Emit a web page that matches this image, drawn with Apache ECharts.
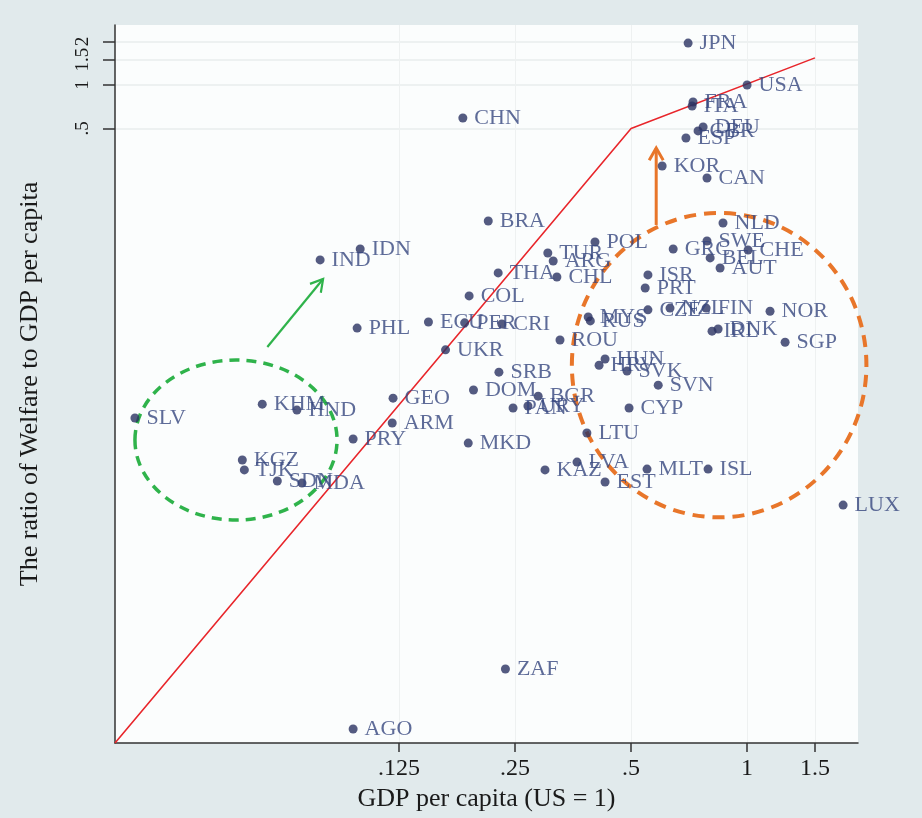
<!DOCTYPE html>
<html><head><meta charset="utf-8">
<script src="https://cdn.jsdelivr.net/npm/echarts@6/dist/echarts.min.js"></script>
<style>html,body{margin:0;padding:0;background:#e1eaec;} #c{width:922px;height:818px;}</style>
</head><body><div id="c"></div>
<script>
// ---- data (log-log scatter) ----
const countries = ['JPN','USA','FRA','ITA','DEU','GBR','ESP','KOR','CAN','CHN',
  'NLD','SWE','GRC','CHE','BEL','AUT','POL','ISR','PRT','MYS',
  'RUS','CZE','NZL','FIN','NOR','IRL','DNK','SGP','HUN','HRV',
  'SVK','SVN','CYP','LTU','LVA','KAZ','EST','MLT','ISL','BGR',
  'PAN','URY','DOM','SRB','MKD','UKR','ROU','ECU','PER','CRI',
  'COL','THA','BRA','TUR','ARG','CHL','IND','IDN','PHL','GEO',
  'KHM','HND','SLV','ARM','PRY','KGZ','TJK','SDN','MDA','AGO',
  'ZAF','LUX'];
const gdpPerCapita = [0.703,1.0,0.724,0.720,0.769,0.746,0.694,0.602,0.787,0.183,
  0.866,0.787,0.643,1.006,0.802,0.851,0.403,0.553,0.544,0.387,
  0.392,0.553,0.631,0.783,1.147,0.811,0.841,1.255,0.428,0.413,
  0.488,0.588,0.494,0.384,0.362,0.299,0.428,0.550,0.792,0.287,
  0.247,0.270,0.195,0.227,0.189,0.165,0.327,0.149,0.185,0.231,
  0.190,0.226,0.213,0.304,0.314,0.321,0.0780,0.0991,0.0973,0.1206,
  0.0552,0.0679,0.0258,0.120,0.0950,0.0490,0.0496,0.0604,0.0700,0.0950,
  0.236,1.775];
const welfareRatio = [1.95,1.0,0.763,0.716,0.512,0.481,0.430,0.275,0.227,0.591,
  0.111,0.0833,0.0733,0.0721,0.0636,0.0542,0.0820,0.0485,0.0394,0.0248,
  0.0233,0.0278,0.0286,0.0286,0.0272,0.0198,0.0205,0.0166,0.0127,0.0115,
  0.0105,0.00838,0.00582,0.00391,0.00246,0.00217,0.00179,0.00220,0.00220,0.00703,
  0.00582,0.00601,0.00775,0.0103,0.00333,0.0147,0.0172,0.0229,0.0226,0.0222,
  0.0347,0.0501,0.1145,0.0688,0.0606,0.0469,0.0616,0.0733,0.0208,0.00681,
  0.00619,0.00563,0.00496,0.00458,0.00355,0.00254,0.00217,0.00182,0.00176,0.000035,
  0.000091,0.00124];
const xTickValues = [0.125, 0.25, 0.5, 1, 1.5];
const xTickLabels = ['.125', '.25', '.5', '1', '1.5'];
const yTickValues = [0.5, 1, 1.5, 2];
const yTickLabels = ['.5', '1', '1.5', '2'];
const xRange = [0.0229, 1.94];
const yRange = [0.000028, 2.6];
// red kinked reference line
const redLineX = [0.0229, 0.5, 1.5];
const redLineY = [0.000028, 0.5, 1.54];
// annotations (data coordinates): ellipse bounding boxes and arrows
const greenEllipse = [0.0258, 0.000977, 0.0863, 0.0125];
const orangeEllipse = [0.351, 0.00102, 2.04, 0.130];
const greenArrow = [0.0569, 0.0154, 0.0794, 0.0455];
const orangeArrow = [0.581, 0.1075, 0.581, 0.366];

const L2 = Math.log2;
const SERIF = '"Liberation Serif", "Times New Roman", serif';
function fmt(ticks, labels) {
  return function (v) {
    for (let i = 0; i < ticks.length; i++) if (Math.abs(L2(ticks[i]) - v) < 1e-6) return labels[i];
    return '';
  };
}
function ellipseItem(color, width, dash) {
  return function (params, api) {
    const a = api.coord([api.value(0), api.value(1)]);
    const b = api.coord([api.value(2), api.value(3)]);
    return {type: 'ellipse',
      shape: {cx: (a[0] + b[0]) / 2, cy: (a[1] + b[1]) / 2, rx: Math.abs(b[0] - a[0]) / 2, ry: Math.abs(b[1] - a[1]) / 2},
      style: {fill: 'none', stroke: color, lineWidth: width, lineDash: dash}};
  };
}
function arrowItem(color, width) {
  return function (params, api) {
    const a = api.coord([api.value(0), api.value(1)]);
    const b = api.coord([api.value(2), api.value(3)]);
    const ang = Math.atan2(b[1] - a[1], b[0] - a[0]);
    const L = 14, w = Math.PI / 6;
    const h1 = [b[0] - L * Math.cos(ang - w), b[1] - L * Math.sin(ang - w)];
    const h2 = [b[0] - L * Math.cos(ang + w), b[1] - L * Math.sin(ang + w)];
    return {type: 'group', children: [
      {type: 'line', shape: {x1: a[0], y1: a[1], x2: b[0], y2: b[1]}, style: {stroke: color, lineWidth: width}},
      {type: 'polyline', shape: {points: [h1, b, h2]}, style: {stroke: color, lineWidth: width, fill: 'none'}}
    ]};
  };
}
const toLog = arr => arr.map(L2);

const chart = echarts.init(document.getElementById('c'));
chart.setOption({
  animation: false,
  backgroundColor: '#e1eaec',
  grid: {left: 115, right: 64, top: 25, bottom: 75, show: true, backgroundColor: '#fbfdfd', borderWidth: 0},
  xAxis: {
    type: 'value', min: L2(xRange[0]), max: L2(xRange[1]),
    name: 'GDP per capita (US = 1)', nameLocation: 'middle', nameGap: 40,
    nameTextStyle: {fontFamily: SERIF, fontSize: 26, color: '#1a1a1a'},
    axisLine: {show: true, onZero: false, lineStyle: {color: '#333', width: 1.5}},
    axisTick: {show: true, length: 9, customValues: toLog(xTickValues), lineStyle: {color: '#333', width: 1.5}},
    axisLabel: {customValues: toLog(xTickValues), formatter: fmt(xTickValues, xTickLabels), margin: 14,
      hideOverlap: false, fontFamily: SERIF, fontSize: 24, color: '#1a1a1a'},
    splitLine: {show: true, lineStyle: {color: '#eef1f1', width: 1}}
  },
  yAxis: {
    type: 'value', min: L2(yRange[0]), max: L2(yRange[1]),
    name: 'The ratio of Welfare to GDP per capita', nameLocation: 'middle', nameGap: 72,
    nameTextStyle: {fontFamily: SERIF, fontSize: 26, color: '#1a1a1a'},
    axisLine: {show: true, onZero: false, lineStyle: {color: '#333', width: 1.5}},
    axisTick: {show: true, length: 12, customValues: toLog(yTickValues), lineStyle: {color: '#333', width: 1.5}},
    axisLabel: {customValues: toLog(yTickValues), formatter: fmt(yTickValues, yTickLabels), rotate: 90, margin: 22,
      interval: 0, hideOverlap: false, showMaxLabel: true, fontFamily: SERIF, fontSize: 19, color: '#1a1a1a'},
    splitLine: {show: true, lineStyle: {color: '#e9eded', width: 1.5}}
  },
  series: [
    {type: 'line', data: redLineX.map((x, i) => [L2(x), L2(redLineY[i])]), symbol: 'none',
      lineStyle: {color: '#e8262b', width: 1.6}, z: 2},
    {type: 'custom', renderItem: ellipseItem('#2fb34b', 3.5, [10, 7]), data: [greenEllipse.map(L2)], z: 3, silent: true},
    {type: 'custom', renderItem: arrowItem('#2fb34b', 2.2), data: [greenArrow.map(L2)], z: 3, silent: true},
    {type: 'custom', renderItem: ellipseItem('#e8762a', 4, [12, 8]), data: [orangeEllipse.map(L2)], z: 3, silent: true},
    {type: 'custom', renderItem: arrowItem('#e8762a', 3), data: [orangeArrow.map(L2)], z: 3, silent: true},
    {type: 'scatter', symbol: 'circle', symbolSize: 9, z: 5,
      itemStyle: {color: '#2b3262'},
      data: countries.map((c, i) => ({name: c, value: [L2(gdpPerCapita[i]), L2(welfareRatio[i])]})),
      label: {show: true, position: 'right', distance: 7, formatter: p => p.name,
        fontFamily: SERIF, fontSize: 22, color: '#36467e'}}
  ]
});
</script></body></html>
